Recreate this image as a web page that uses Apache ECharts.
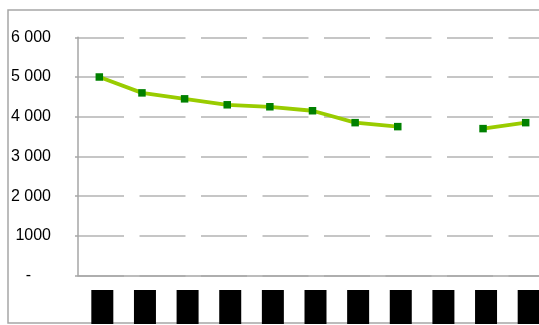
<!DOCTYPE html>
<html>
<head>
<meta charset="utf-8">
<script src="https://cdn.jsdelivr.net/npm/echarts@6/dist/echarts.min.js"></script>
<style>
  html, body { margin: 0; padding: 0; background: #fff; }
  #chart { width: 539px; height: 325px; }
</style>
</head>
<body>
<div id="chart"></div>
<script>
// Categories along the bottom axis
const categories = ['2009', '2010', '2011', '2012', '2013', '2014', '2015', '2016', '2017', '2018', '2019'];
// Series values (null = no value for that period)
const values = [5000, 4600, 4450, 4300, 4250, 4150, 3850, 3750, null, 3700, 3850];
// Value axis ticks
const yTicks = [0, 1000, 2000, 3000, 4000, 5000, 6000];

function fmtTick(v) {
  if (v === 0) return '{z|-}';
  if (v < 2000) return String(v);
  return String(v).replace(/\B(?=(\d{3})+(?!\d))/g, ' ');
}

const chart = echarts.init(document.getElementById('chart'), null, { renderer: 'canvas' });
chart.setOption({
  animation: false,
  backgroundColor: '#ffffff',
  graphic: [{
    type: 'rect',
    shape: { x: 8, y: 10, width: 540, height: 313 },
    style: { fill: 'none', stroke: '#a6a6a6', lineWidth: 1.5 },
    silent: true,
    z: -1
  }],
  // plot area runs past the right edge of the canvas
  grid: { left: 78, width: 469, top: 37.3, bottom: 49.5, containLabel: false, outerBoundsMode: 'none' },
  xAxis: {
    type: 'category',
    data: categories,
    boundaryGap: true,
    axisLine: { show: true, lineStyle: { color: '#a6a6a6', width: 1.5 } },
    axisTick: { show: false },
    axisLabel: {
      interval: 0,
      margin: 14.5,
      formatter: function (v) { return '{s|}{b|' + v + '}'; },
      rich: {
        s: { width: 6, height: 34 },
        b: { width: 22, height: 34, backgroundColor: '#000', color: '#000', fontSize: 9, align: 'center' }
      }
    },
    splitLine: { show: false }
  },
  yAxis: {
    type: 'value',
    min: yTicks[0],
    max: yTicks[yTicks.length - 1],
    interval: 1000,
    axisLine: { show: true, lineStyle: { color: '#a6a6a6', width: 1.5 } },
    axisTick: { show: true, length: 3, lineStyle: { color: '#a6a6a6', width: 1.5 } },
    axisLabel: {
      margin: 27,
      fontFamily: 'Liberation Sans, Arial, sans-serif',
      fontSize: 16,
      color: '#000',
      formatter: fmtTick,
      rich: { z: { padding: [0, 20, 0, 0], fontSize: 16, color: '#000', fontFamily: 'Liberation Sans, Arial, sans-serif' } }
    },
    splitLine: {
      show: true,
      lineStyle: { color: '#b4b4b4', width: 1.5, type: [46, 15.5] }
    }
  },
  series: [{
    type: 'line',
    data: values,
    connectNulls: false,
    symbol: 'rect',
    symbolSize: 7.5,
    itemStyle: { color: '#008000' },
    lineStyle: { color: '#99cc00', width: 3.8 },
    z: 3
  }]
});
</script>
</body>
</html>
